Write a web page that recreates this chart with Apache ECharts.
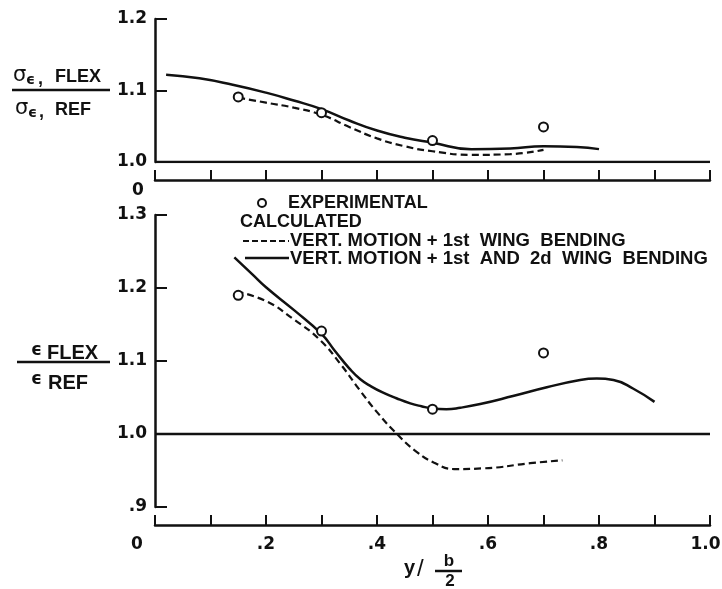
<!DOCTYPE html>
<html><head><meta charset="utf-8">
<script src="https://cdn.jsdelivr.net/npm/echarts@6/dist/echarts.min.js"></script>
<style>html,body{margin:0;padding:0;background:#fff}#c{width:722px;height:589px}</style>
</head><body><div id="c"></div>
<script>
// ---- data ----
const expX = [0.15, 0.3, 0.5, 0.7];
const topExpY = [1.091, 1.069, 1.030, 1.049];
const topSolidX = [0.02, 0.08, 0.14, 0.2, 0.25, 0.3, 0.35, 0.4, 0.45, 0.5, 0.57, 0.64, 0.7, 0.76, 0.8];
const topSolidY = [1.122, 1.117, 1.108, 1.097, 1.086, 1.074, 1.058, 1.044, 1.034, 1.027, 1.018, 1.019, 1.022, 1.021, 1.018];
const topDashX = [0.15, 0.2, 0.25, 0.3, 0.35, 0.4, 0.45, 0.5, 0.57, 0.64, 0.7];
const topDashY = [1.090, 1.083, 1.076, 1.066, 1.049, 1.033, 1.022, 1.015, 1.010, 1.011, 1.017];

const botExpY = [1.19, 1.141, 1.034, 1.111];
const botSolidX = [0.143, 0.175, 0.2, 0.25, 0.3, 0.325, 0.35, 0.37, 0.39, 0.41, 0.435, 0.46, 0.48, 0.5, 0.525, 0.55, 0.586, 0.645, 0.706, 0.766, 0.796, 0.826, 0.862, 0.9];
const botSolidY = [1.242, 1.219, 1.201, 1.170, 1.137, 1.113, 1.090, 1.075, 1.065, 1.057, 1.049, 1.042, 1.038, 1.035, 1.034, 1.036, 1.041, 1.052, 1.064, 1.074, 1.076, 1.074, 1.062, 1.044];
const botDashX = [0.147, 0.2, 0.25, 0.297, 0.335, 0.369, 0.4, 0.436, 0.469, 0.502, 0.539, 0.593, 0.676, 0.734];
const botDashY = [1.195, 1.182, 1.157, 1.129, 1.095, 1.060, 1.030, 1.000, 0.977, 0.961, 0.952, 0.953, 0.960, 0.964];

const refX = [0, 1.0];
const refY = [1.0, 1.0];

const topYTicks = {min: 1.0, max: 1.2, interval: 0.1};
const botYTicks = {min: 0.9, max: 1.3, interval: 0.1};
const xTicks = {min: 0, max: 1.0, interval: 0.1};

// ---- helpers ----
const zip = (xs, ys) => xs.map((x, i) => [x, ys[i]]);
const INK = '#111';
const FF = "'Liberation Sans', Arial, sans-serif";
const NUM = "'DejaVu Sans', 'Liberation Sans', sans-serif";

function yLabel(v) {
  const r = Math.round(v * 10) / 10;
  return r < 1 ? '.' + Math.round(r * 10) : r.toFixed(1);
}
function xLabelBottom(v) {
  const t = Math.round(v * 10);
  if (t === 0) return '{z|0}';
  if (t % 2 !== 0) return '';
  return t === 10 ? '{e|1.0}' : '.' + t;
}
function xLabelTop(v) {
  return Math.round(v * 10) === 0 ? '{z|0}' : '';
}

const axisLineStyle = {color: INK, width: 2.5};
const labelStyle = {color: INK, fontFamily: NUM, fontWeight: 'bold', fontSize: 17};

const chart = echarts.init(document.getElementById('c'), null, {renderer: 'canvas'});

function txt(text, x, y, size, opts) {
  opts = opts || {};
  return {
    type: 'text', x: x, y: y, silent: true,
    style: {
      text: text, fill: INK,
      font: (opts.weight || 'bold') + ' ' + size + 'px ' + (opts.family || FF),
      align: opts.align || 'left', verticalAlign: 'middle'
    }
  };
}
function seg(x1, y1, x2, y2, w, dash) {
  return {type: 'line', silent: true, shape: {x1, y1, x2, y2},
    style: {stroke: INK, lineWidth: w, lineDash: dash || null}};
}

const greek = "'DejaVu Sans', 'Noto Sans', sans-serif";
const markerStyle = {color: '#fff', borderColor: INK, borderWidth: 2, opacity: 1};

const option = {
  animation: false,
  backgroundColor: '#fff',
  grid: [
    {left: 155, right: 12, top: 19, height: 143, containLabel: false, outerBoundsMode: 'none'},
    {left: 155, right: 12, top: 215, height: 292, containLabel: false, outerBoundsMode: 'none'}
  ],
  xAxis: [
    {gridIndex: 0, type: 'value', ...xTicks, offset: 18,
      axisLine: {onZero: false, lineStyle: axisLineStyle},
      axisTick: {inside: true, length: 10, lineStyle: {color: INK, width: 2}},
      axisLabel: {...labelStyle, margin: 2, formatter: xLabelTop, hideOverlap: false,
        rich: {z: {...labelStyle, padding: [0, 34, 0, 0]}}},
      splitLine: {show: false}},
    {gridIndex: 1, type: 'value', ...xTicks, offset: 18,
      axisLine: {onZero: false, lineStyle: axisLineStyle},
      axisTick: {inside: true, length: 10, lineStyle: {color: INK, width: 2}},
      axisLabel: {...labelStyle, margin: 11, formatter: xLabelBottom, hideOverlap: false,
        rich: {z: {...labelStyle, padding: [0, 36, 0, 0]},
               e: {...labelStyle, padding: [0, 9, 0, 0]}}},
      splitLine: {show: false}}
  ],
  yAxis: [
    {gridIndex: 0, type: 'value', ...topYTicks,
      axisLine: {show: true, onZero: false, lineStyle: axisLineStyle},
      axisTick: {show: true, inside: true, length: 12, lineStyle: {color: INK, width: 2}},
      axisLabel: {...labelStyle, margin: 8, formatter: yLabel},
      splitLine: {show: false}},
    {gridIndex: 1, type: 'value', ...botYTicks,
      axisLine: {show: true, onZero: false, lineStyle: axisLineStyle},
      axisTick: {show: true, inside: true, length: 12, lineStyle: {color: INK, width: 2}},
      axisLabel: {...labelStyle, margin: 8, formatter: yLabel},
      splitLine: {show: false}}
  ],
  series: [
    {type: 'line', xAxisIndex: 0, yAxisIndex: 0, data: zip(refX, refY), symbol: 'none',
      lineStyle: {color: INK, width: 2.5}},
    {type: 'line', xAxisIndex: 0, yAxisIndex: 0, data: zip(topSolidX, topSolidY), symbol: 'none',
      smooth: 0.5, lineStyle: {color: INK, width: 2.5}},
    {type: 'line', xAxisIndex: 0, yAxisIndex: 0, data: zip(topDashX, topDashY), symbol: 'none',
      smooth: 0.5, lineStyle: {color: INK, width: 2.2, type: [7, 4]}},
    {type: 'scatter', xAxisIndex: 0, yAxisIndex: 0, data: zip(expX, topExpY), symbol: 'circle',
      symbolSize: 9, itemStyle: markerStyle, z: 5},

    {type: 'line', xAxisIndex: 1, yAxisIndex: 1, data: zip(refX, refY), symbol: 'none',
      lineStyle: {color: INK, width: 2.5}},
    {type: 'line', xAxisIndex: 1, yAxisIndex: 1, data: zip(botSolidX, botSolidY), symbol: 'none',
      smooth: 0.5, lineStyle: {color: INK, width: 2.5}},
    {type: 'line', xAxisIndex: 1, yAxisIndex: 1, data: zip(botDashX, botDashY), symbol: 'none',
      smooth: 0.5, lineStyle: {color: INK, width: 2.2, type: [7, 4]}},
    {type: 'scatter', xAxisIndex: 1, yAxisIndex: 1, data: zip(expX, botExpY), symbol: 'circle',
      symbolSize: 9, itemStyle: markerStyle, z: 5}
  ],
  graphic: [
    // top y-axis name: sigma_eps,FLEX / sigma_eps,REF
    txt('σ', 13, 76, 21, {family: greek, weight: 'normal'}),
    txt('ϵ', 26, 80, 14, {family: greek, weight: 'bold'}),
    txt(',', 38, 79, 18),
    txt('FLEX', 55, 77, 18),
    seg(12, 90, 110, 90, 2.5),
    txt('σ', 15, 109, 21, {family: greek, weight: 'normal'}),
    txt('ϵ', 28, 113, 14, {family: greek, weight: 'bold'}),
    txt(',', 39, 112, 18),
    txt('REF', 55, 110, 18),
    // bottom y-axis name: eps FLEX / eps REF
    txt('ϵ', 31, 351, 17, {family: greek, weight: 'bold'}),
    txt('FLEX', 47, 353, 20),
    seg(17, 362, 110, 362, 2.5),
    txt('ϵ', 31, 380, 17, {family: greek, weight: 'bold'}),
    txt('REF', 48, 383, 20),
    // x-axis name y / (b/2)
    txt('y', 404, 568, 20),
    txt('/', 417, 569, 24, {weight: 'normal'}),
    txt('b', 449, 561, 17, {align: 'center'}),
    seg(435, 571, 462, 571, 2.5),
    txt('2', 450, 581, 17, {align: 'center'}),
    // legend
    {type: 'circle', silent: true, shape: {cx: 262, cy: 203, r: 4},
      style: {fill: '#fff', stroke: INK, lineWidth: 2}},
    txt('EXPERIMENTAL', 288, 203, 18),
    txt('CALCULATED', 240, 222, 18),
    seg(243, 241, 289, 241, 2, [6, 3]),
    txt('VERT. MOTION + 1st  WING  BENDING', 290, 241, 18.5),
    seg(245, 258, 289, 258, 2.5),
    txt('VERT. MOTION + 1st  AND  2d  WING  BENDING', 290, 259, 18.5)
  ]
};
chart.setOption(option);
</script>
</body></html>
